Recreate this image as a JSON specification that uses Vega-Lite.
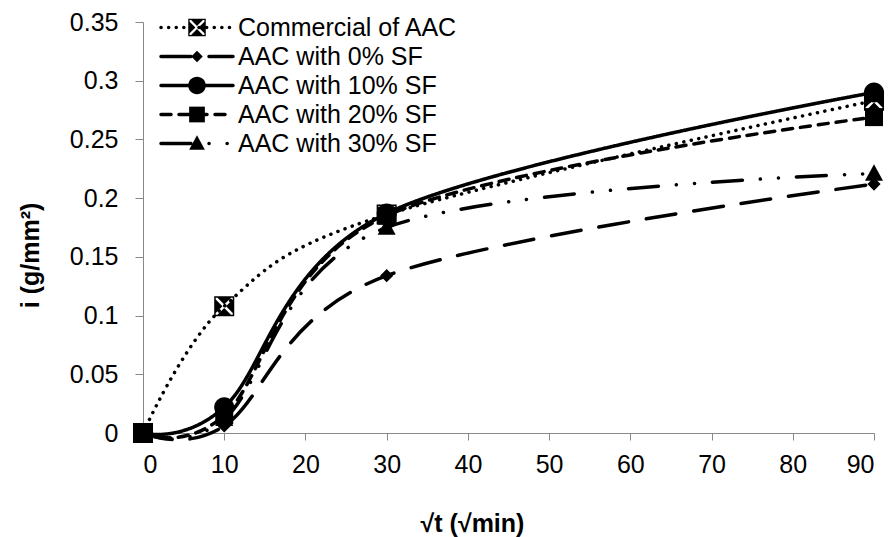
{
  "$schema": "https://vega.github.io/schema/vega-lite/v6.json",
  "width": 731,
  "height": 411,
  "autosize": {"type": "none"},
  "padding": {"left": 143, "top": 22, "right": 17, "bottom": 104},
  "background": "white",
  "config": {"view": {"stroke": null}, "font": "Liberation Sans"},
  "data": {
    "values": [
      {"series": "Commercial of AAC", "t": 0, "i": 0},
      {"series": "Commercial of AAC", "t": 10, "i": 0.108},
      {"series": "Commercial of AAC", "t": 30, "i": 0.186},
      {"series": "Commercial of AAC", "t": 90, "i": 0.283},
      {"series": "AAC with 0% SF", "t": 0, "i": 0},
      {"series": "AAC with 0% SF", "t": 10, "i": 0.006},
      {"series": "AAC with 0% SF", "t": 30, "i": 0.134},
      {"series": "AAC with 0% SF", "t": 90, "i": 0.212},
      {"series": "AAC with 10% SF", "t": 0, "i": 0},
      {"series": "AAC with 10% SF", "t": 10, "i": 0.022},
      {"series": "AAC with 10% SF", "t": 30, "i": 0.187},
      {"series": "AAC with 10% SF", "t": 90, "i": 0.29},
      {"series": "AAC with 20% SF", "t": 0, "i": 0},
      {"series": "AAC with 20% SF", "t": 10, "i": 0.015},
      {"series": "AAC with 20% SF", "t": 30, "i": 0.185},
      {"series": "AAC with 20% SF", "t": 90, "i": 0.269},
      {"series": "AAC with 30% SF", "t": 0, "i": 0},
      {"series": "AAC with 30% SF", "t": 10, "i": 0.012},
      {"series": "AAC with 30% SF", "t": 30, "i": 0.175},
      {"series": "AAC with 30% SF", "t": 90, "i": 0.221}
    ]
  },
  "encoding": {
    "x": {
      "field": "t",
      "type": "quantitative",
      "scale": {"domain": [0, 90], "nice": false, "zero": false},
      "axis": {
        "values": [0, 10, 20, 30, 40, 50, 60, 70, 80, 90],
        "grid": false,
        "domainColor": "#888888",
        "tickColor": "#888888",
        "tickSize": 7,
        "labelFontSize": 25,
        "labelColor": "black",
        "labelPadding": 12,
        "labelFont": "Liberation Sans",
        "title": "√t (√min)",
        "titleFont": "Liberation Sans",
        "titleFontSize": 25,
        "titleFontWeight": "bold",
        "titleColor": "black",
        "titleX": 329,
        "titleY": 90,
        "titleBaseline": "middle",
        "titleAlign": "center"
      }
    },
    "y": {
      "field": "i",
      "type": "quantitative",
      "scale": {"domain": [0, 0.35], "nice": false},
      "axis": {
        "values": [0, 0.05, 0.1, 0.15, 0.2, 0.25, 0.3, 0.35],
        "format": ".2~f",
        "grid": false,
        "domainColor": "#888888",
        "tickColor": "#888888",
        "tickSize": 8,
        "labelFontSize": 25,
        "labelColor": "black",
        "labelPadding": 17,
        "labelFont": "Liberation Sans",
        "title": "i (g/mm²)",
        "titleFont": "Liberation Sans",
        "titleFontSize": 25,
        "titleFontWeight": "bold",
        "titleColor": "black",
        "titleX": -113,
        "titleY": 233,
        "titleAngle": -90,
        "titleBaseline": "middle",
        "titleAlign": "center"
      }
    }
  },
  "layer": [
    {
      "mark": {"type": "line", "interpolate": "cardinal", "strokeWidth": 3.5, "strokeCap": "round", "color": "black"},
      "encoding": {
        "strokeDash": {
          "field": "series",
          "type": "nominal",
          "scale": {
            "domain": ["Commercial of AAC", "AAC with 0% SF", "AAC with 10% SF", "AAC with 20% SF", "AAC with 30% SF"],
            "range": [[0.1, 7.5], [30, 18], [1, 0], [10, 8], [30, 18, 0.1, 18, 0.1, 18]]
          },
          "legend": {
            "title": null,
            "orient": "none",
            "legendX": 18,
            "legendY": -7,
            "direction": "vertical",
            "padding": 0,
            "symbolType": "M-6,0H6",
            "symbolSize": 144,
            "symbolStrokeWidth": 3.5,
            "symbolStrokeColor": "black",
            "symbolFillColor": "transparent",
            "symbolOffset": 23.5,
            "labelOffset": 28.5,
            "labelFontSize": 25,
            "labelFont": "Liberation Sans",
            "labelColor": "black",
            "labelLimit": 500,
            "rowPadding": 3,
            "encode": {"symbols": {"update": {"strokeCap": {"value": "round"}}}}
          }
        }
      }
    },
    {
      "mark": {"type": "point", "filled": true, "color": "black", "opacity": 1, "size": 144, "strokeWidth": 0},
      "encoding": {
        "shape": {
          "field": "series",
          "type": "nominal",
          "sort": ["Commercial of AAC", "AAC with 0% SF", "AAC with 10% SF", "AAC with 20% SF", "AAC with 30% SF"],
          "scale": {
            "range": [
              "M-1.67,-1.67H1.67V1.67H-1.67Z M-1.42,-1.42V1.42H1.42V-1.42Z M-1.12,-1.42H1.12L0,-0.3Z M1.42,-1.12V1.12L0.3,0Z M1.12,1.42H-1.12L0,0.3Z M-1.42,1.12V-1.12L-0.3,0Z",
              "M0,-1.1L1.1,0L0,1.1L-1.1,0Z",
              "M-1.67,0A1.67,1.67 0 1,0 1.67,0A1.67,1.67 0 1,0 -1.67,0Z",
              "M-1.5,-1.5H1.5V1.5H-1.5Z",
              "M0,-1.55L1.5,1.2L-1.5,1.2Z"
            ]
          },
          "legend": {
            "title": null,
            "orient": "none",
            "legendX": 18,
            "legendY": -7,
            "direction": "vertical",
            "padding": 0,
            "symbolSize": 110,
            "symbolStrokeWidth": 0,
            "symbolFillColor": "black",
            "symbolOffset": 23.5,
            "labelOffset": 28.5,
            "labelFontSize": 25,
            "labelFont": "Liberation Sans",
            "labelColor": "transparent",
            "labelLimit": 500,
            "rowPadding": 3
          }
        }
      }
    }
  ]
}
